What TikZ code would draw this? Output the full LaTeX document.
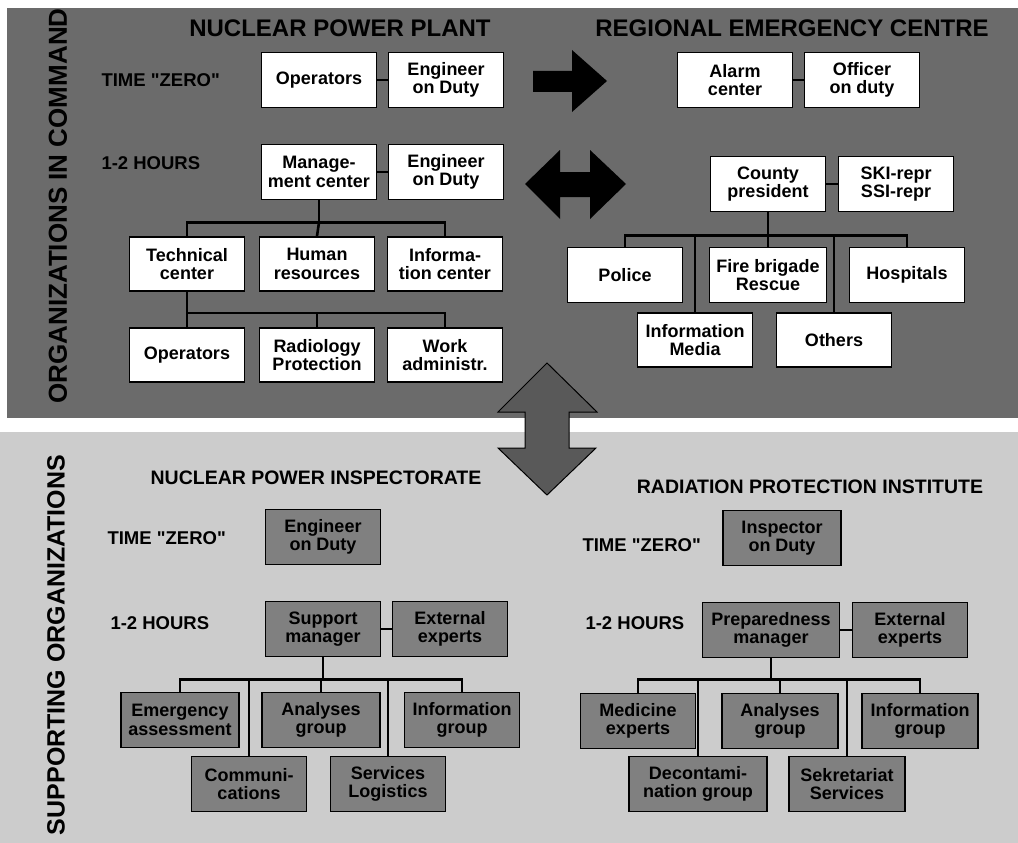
\documentclass[tikz,border=0pt]{standalone}
\usepackage{fontspec}
\setmainfont{Liberation Sans}
\usetikzlibrary{calc}
\begin{document}
\begin{tikzpicture}[x=1pt,y=-1pt,
  box/.style={draw=black, line width=1.8pt, minimum width=115pt, minimum height=55pt,
    inner sep=1pt, align=center, font=\fontsize{18}{18.5}\selectfont\bfseries},
  tbox/.style={box, fill=white},
  sbox/.style={box, fill=black!50},
  link/.style={line width=2.6pt},
  bigtitle/.style={font=\fontsize{24}{28}\selectfont\bfseries},
  subtitle/.style={font=\fontsize{19.5}{22}\selectfont\bfseries},
  phase/.style={font=\fontsize{18.5}{22}\selectfont\bfseries},
  sidetitle/.style={rotate=90, font=\fontsize{26}{30}\selectfont\bfseries},
  bolt/.style={fill=black},
  updown/.style={fill=black!65, draw=black, line width=1pt}
]
\useasboundingbox (0,0) rectangle (1018,843);
\fill[white] (0,0) rectangle (1018,843);
% panels
\fill[black!58] (7,8) rectangle (1018,418);
\fill[black!20] (0,432) rectangle (1018,843);

% side titles
\node[sidetitle] (cmd) at (58,206) {ORGANIZATIONS IN COMMAND};
\node[sidetitle, font=\fontsize{25}{30}\selectfont\bfseries] (sup) at (56,645) {SUPPORTING ORGANIZATIONS};

% ---------- nuclear power plant ----------
\node[bigtitle] (npp) at (340,28) {NUCLEAR POWER PLANT};
\node[phase, anchor=west] (t0a) at (98,80) {TIME \textquotedbl ZERO\textquotedbl};
\node[phase, anchor=west] (h1a) at (98,163) {1-2 HOURS};
\node[tbox] (op0) at (319,80) {Operators};
\node[tbox] (eng0) at (446,80) {Engineer\\on Duty};
\node[tbox] (mgmt) at (319,172) {Manage-\\ment center};
\node[tbox] (eng1) at (446,172) {Engineer\\on Duty};
\node[tbox, minimum height=54pt] (tech) at (187,264) {Technical\\center};
\node[tbox, minimum height=54pt] (human) at (317,264) {Human\\resources};
\node[tbox, minimum height=54pt] (info) at (445,264) {Informa-\\tion center};
\node[tbox, minimum height=54pt] (op2) at (187,355) {Operators};
\node[tbox, minimum height=54pt] (radio) at (317,355) {Radiology\\Protection};
\node[tbox, minimum height=54pt] (work) at (445,355) {Work\\administr.};

\draw[link] (op0.east) -- (eng0.west);
\draw[link] (mgmt.east) -- (eng1.west);
\coordinate (b1) at ($(mgmt.south)+(0,22)$);
\draw[link] (mgmt.south) -- (b1);
\draw[link] (tech.north) |- (b1) -| (info.north);
\draw[link] (human.north) -- (b1);
\coordinate (b2) at ($(tech.south)+(0,21)$);
\draw[link] (tech.south) -- (b2);
\draw[link] (op2.north) |- (b2) -| (work.north);
\draw[link] (radio.north) |- (b2);

% ---------- regional emergency centre ----------
\node[bigtitle] (rec) at (792,28) {REGIONAL EMERGENCY CENTRE};
\node[tbox] (alarm) at (735,80) {Alarm\\center};
\node[tbox] (officer) at (862,80) {Officer\\on duty};
\node[tbox] (county) at (768,184) {County\\president};
\node[tbox] (ski) at (896,184) {SKI-repr\\SSI-repr};
\node[tbox] (police) at (625,275) {Police};
\node[tbox, minimum width=117pt] (fire) at (768,275) {Fire brigade\\Rescue};
\node[tbox] (hosp) at (907,275) {Hospitals};
\node[tbox, minimum height=54pt] (media) at (695,340) {Information\\Media};
\node[tbox, minimum height=54pt] (others) at (834,340) {Others};

\draw[link] (alarm.east) -- (officer.west);
\draw[link] (county.east) -- (ski.west);
\coordinate (b3) at ($(county.south)+(0,23)$);
\draw[link] (county.south) -- (b3);
\draw[link] (police.north) |- (b3) -| (hosp.north);
\draw[link] (fire.north) -- (b3);
\draw[link] (media.north) |- (b3);
\draw[link] (others.north) |- (b3);

% links between the two command organizations
\fill[bolt] (533,71) -- (572,71) -- (572,50) -- (607,81) -- (572,112)
  -- (572,92) -- (533,92) -- cycle;
\fill[bolt] (525,184) -- (560,150) -- (560,172) -- (590,172) -- (590,150)
  -- (626,184) -- (590,219) -- (590,197) -- (560,197) -- (560,219) -- cycle;
% link between command and supporting organizations
\filldraw[updown] (547,363) -- (597,412) -- (569,412) -- (569,448) -- (596,448)
  -- (547,495) -- (498,448) -- (525,448) -- (525,412) -- (498,412) -- cycle;

% ---------- nuclear power inspectorate ----------
\node[subtitle] (npi) at (316,478) {NUCLEAR POWER INSPECTORATE};
\node[phase, anchor=west] (t0b) at (104,538) {TIME \textquotedbl ZERO\textquotedbl};
\node[phase, anchor=west] (h1b) at (107,623) {1-2 HOURS};
\node[sbox] (neng) at (323,537) {Engineer\\on Duty};
\node[sbox] (supp) at (323,629) {Support\\manager};
\node[sbox] (ext1) at (450,629) {External\\experts};
\node[sbox, minimum width=118pt] (emerg) at (180,720) {Emergency\\assessment};
\node[sbox, minimum width=118pt] (anal1) at (321,720) {Analyses\\group};
\node[sbox] (infog1) at (462,720) {Information\\group};
\node[sbox] (comm) at (249,784) {Communi-\\cations};
\node[sbox] (serv) at (388,784) {Services\\Logistics};

\draw[link] (supp.east) -- (ext1.west);
\coordinate (b4) at ($(supp.south)+(0,22)$);
\draw[link] (supp.south) -- (b4);
\draw[link] (emerg.north) |- (b4) -| (infog1.north);
\draw[link] (anal1.north) |- (b4);
\draw[link] (comm.north) |- (b4);
\draw[link] (serv.north) |- (b4);

% ---------- radiation protection institute ----------
\node[subtitle] (rpi) at (810,487) {RADIATION PROTECTION INSTITUTE};
\node[phase, anchor=west] (t0c) at (579,545) {TIME \textquotedbl ZERO\textquotedbl};
\node[phase, anchor=west] (h1c) at (582,623) {1-2 HOURS};
\node[sbox, minimum width=118pt] (insp) at (782,538) {Inspector\\on Duty};
\node[sbox, minimum width=137pt] (prep) at (771,630) {Preparedness\\manager};
\node[sbox] (ext2) at (910,630) {External\\experts};
\node[sbox] (med) at (638,721) {Medicine\\experts};
\node[sbox, minimum width=116pt] (anal2) at (780,721) {Analyses\\group};
\node[sbox, minimum width=116pt] (infog2) at (920,721) {Information\\group};
\node[sbox, minimum width=138pt] (decon) at (698,784) {Decontami-\\nation group};
\node[sbox, minimum width=116pt] (sekr) at (847,784) {Sekretariat\\Services};

\draw[link] (prep.east) -- (ext2.west);
\coordinate (b5) at ($(prep.south)+(0,21)$);
\draw[link] (prep.south) -- (b5);
\draw[link] (med.north) |- (b5) -| (infog2.north);
\draw[link] (anal2.north) |- (b5);
\draw[link] (decon.north) |- (b5);
\draw[link] (sekr.north) |- (b5);
\end{tikzpicture}
\end{document}
